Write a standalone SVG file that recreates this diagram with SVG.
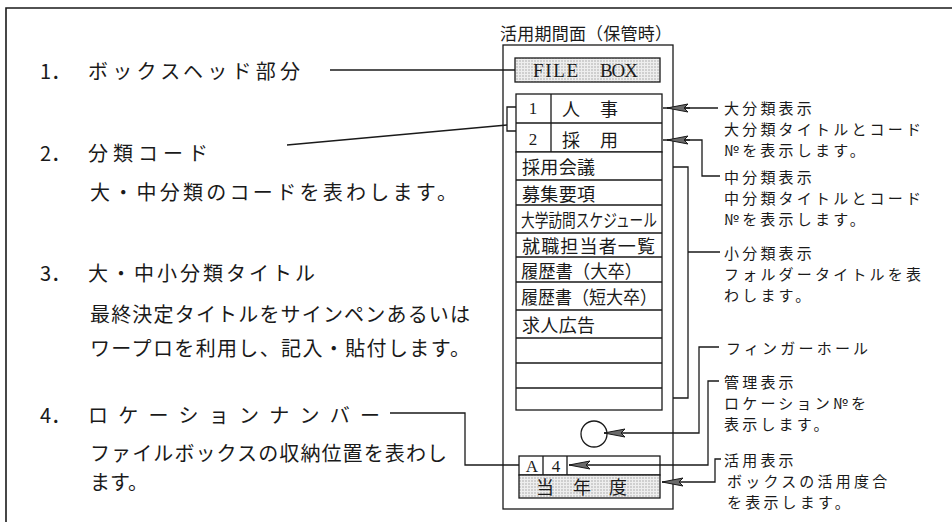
<svg xmlns="http://www.w3.org/2000/svg" width="952" height="522" viewBox="0 0 952 522">
<style>
text { font-family: "Noto Sans CJK JP", "Noto Sans CJK SC", sans-serif; fill: #1a1a1a; dominant-baseline: central; }
.l { font-size: 20px; }
.r { font-size: 15px; letter-spacing: 3.2px; }
.c { font-size: 18px; }
.t { font-size: 17px; }
.s { font-family: "Liberation Serif", serif; }
.ln { fill: none; stroke: #1a1a1a; stroke-width: 1.3; }
.bx { fill: #ffffff; stroke: #1a1a1a; stroke-width: 1.3; }
.dot { fill: url(#dots); stroke: #1a1a1a; stroke-width: 1.3; }
</style>
<defs>
<pattern id="dots" width="3" height="3" patternUnits="userSpaceOnUse">
<rect width="3" height="3" fill="#eeeeee"/>
<circle cx="1" cy="1" r="0.7" fill="#9a9a9a"/>
</pattern>
<marker id="ah" markerUnits="userSpaceOnUse" viewBox="-1 -6 24 12" refX="0" refY="0" markerWidth="24" markerHeight="12" orient="auto" overflow="visible">
<path d="M0,0 L21,-4 L17,0 L21,4 Z" fill="#6a6a6a" stroke="#1a1a1a" stroke-width="1"/>
</marker>
</defs>
<rect width="952" height="522" fill="#ffffff"/>
<g id="frame">
<path d="M6,522 V8 H952" fill="none" stroke="#1a1a1a" stroke-width="1.6"/>
</g>

<g id="item1">
<text class="l" x="40" y="70">1．</text>
<text class="l" x="88" y="70" textLength="212" lengthAdjust="spacing">ボックスヘッド部分</text>
</g>
<g id="item2">
<text class="l" x="40" y="152">2．</text>
<text class="l" x="88" y="152" textLength="120" lengthAdjust="spacing">分類コード</text>
<text class="l" x="90" y="191" textLength="367" lengthAdjust="spacing">大・中分類のコードを表わします。</text>
</g>
<g id="item3">
<text class="l" x="40" y="272">3．</text>
<text class="l" x="88" y="272" textLength="227" lengthAdjust="spacing">大・中小分類タイトル</text>
<text class="l" x="90" y="313" textLength="380" lengthAdjust="spacing">最終決定タイトルをサインペンあるいは</text>
<text class="l" x="90" y="347" textLength="380" lengthAdjust="spacing">ワープロを利用し、記入・貼付します。</text>
</g>
<g id="item4">
<text class="l" x="40" y="414">4．</text>
<text class="l" x="88" y="414" textLength="292" lengthAdjust="spacing">ロケーションナンバー</text>
<text class="l" x="90" y="452" textLength="357" lengthAdjust="spacing">ファイルボックスの収納位置を表わし</text>
<text class="l" x="90" y="481">ます。</text>
</g>

<g id="box">
<text class="t" x="500" y="32" textLength="172" lengthAdjust="spacing">活用期間面（保管時）</text>
<rect class="bx" x="503" y="45" width="170" height="464"/>
<g id="filebox-head">
<rect class="dot" x="515" y="58" width="145" height="24"/>
<text class="s" x="533" y="70" font-size="19" textLength="45" lengthAdjust="spacing">FILE</text>
<text class="s" x="600" y="70" font-size="19" textLength="38" lengthAdjust="spacing">BOX</text>
</g>
<g id="code-rows">
<rect class="bx" x="516" y="94" width="146" height="58"/>
<path class="ln" d="M516,123 H662 M551,94 V152"/>
<text class="s" x="533" y="108" font-size="17" text-anchor="middle">1</text>
<text class="c" x="571" y="108" text-anchor="middle">人</text>
<text class="c" x="609" y="108" text-anchor="middle">事</text>
<text class="s" x="533" y="139" font-size="17" text-anchor="middle">2</text>
<text class="c" x="571" y="139" text-anchor="middle">採</text>
<text class="c" x="609" y="139" text-anchor="middle">用</text>
</g>
<g id="title-rows">
<rect class="bx" x="516" y="152" width="146" height="258"/>
<path class="ln" d="M516,180 H662 M516,205 H662 M516,233 H662 M516,257 H662 M516,282 H662 M516,310 H662 M516,338 H662 M516,363 H662 M516,388 H662"/>
<text class="c" x="522" y="166" textLength="73" lengthAdjust="spacing">採用会議</text>
<text class="c" x="522" y="193" textLength="73" lengthAdjust="spacing">募集要項</text>
<text class="c" x="521" y="219" textLength="136" lengthAdjust="spacingAndGlyphs">大学訪問スケジュール</text>
<text class="c" x="522" y="245" textLength="133" lengthAdjust="spacing">就職担当者一覧</text>
<text class="c" x="521" y="270" textLength="121" lengthAdjust="spacingAndGlyphs">履歴書（大卒）</text>
<text class="c" x="521" y="296" textLength="136" lengthAdjust="spacingAndGlyphs">履歴書（短大卒）</text>
<text class="c" x="522" y="324" textLength="73" lengthAdjust="spacing">求人広告</text>
</g>
<g id="finger-hole">
<circle cx="594" cy="434" r="13" fill="#ffffff" stroke="#1a1a1a" stroke-width="1.3"/>
</g>
<g id="location">
<rect class="bx" x="519" y="456" width="141" height="19"/>
<path class="ln" d="M543,456 V475 M567,456 V475"/>
<text class="s" x="532" y="466" font-size="17" text-anchor="middle">A</text>
<text class="s" x="556" y="466" font-size="17" text-anchor="middle">4</text>
<rect class="dot" x="519" y="475" width="141" height="23"/>
<text class="c" x="545" y="486" text-anchor="middle">当</text>
<text class="c" x="582" y="486" text-anchor="middle">年</text>
<text class="c" x="618" y="486" text-anchor="middle">度</text>
</g>
</g>

<g id="label-dai">
<text class="r" x="724" y="107">大分類表示</text>
<text class="r" x="724" y="128">大分類タイトルとコード</text>
<text class="r" x="724" y="149">№を表示します。</text>
</g>
<g id="label-chu">
<text class="r" x="724" y="176">中分類表示</text>
<text class="r" x="724" y="197">中分類タイトルとコード</text>
<text class="r" x="724" y="218">№を表示します。</text>
</g>
<g id="label-sho">
<text class="r" x="724" y="252">小分類表示</text>
<text class="r" x="724" y="273">フォルダータイトルを表</text>
<text class="r" x="724" y="294">わします。</text>
</g>
<g id="label-finger">
<text class="r" x="726" y="347">フィンガーホール</text>
</g>
<g id="label-kanri">
<text class="r" x="724" y="381">管理表示</text>
<text class="r" x="724" y="402">ロケーション№を</text>
<text class="r" x="724" y="423">表示します。</text>
</g>
<g id="label-katsuyo">
<text class="r" x="724" y="459">活用表示</text>
<text class="r" x="727" y="480">ボックスの活用度合</text>
<text class="r" x="727" y="501">を表示します。</text>
</g>

<g id="connectors">
<path class="ln" d="M330,70 H515"/>
<path class="ln" d="M287,145 L507,125"/>
<path class="ln" d="M516,107 H507 V131 H516"/>
<path class="ln" d="M390,413 H465 V465 H519"/>
<path class="ln" d="M663,108 H718"/>
<path class="ln" d="M667,108 H690" marker-start="url(#ah)"/>
<path class="ln" d="M663,140 H702 V176 H720"/>
<path class="ln" d="M667,140 H690" marker-start="url(#ah)"/>
<path class="ln" d="M673,167 H688 V398 H673 M688,252 H720"/>
<path class="ln" d="M604,433 H699 V347 H719" marker-start="url(#ah)"/>
<path class="ln" d="M569,465 H708 V381 H719" marker-start="url(#ah)"/>
<path class="ln" d="M662,482 H715 V459 H721" marker-start="url(#ah)"/>
</g>
</svg>
